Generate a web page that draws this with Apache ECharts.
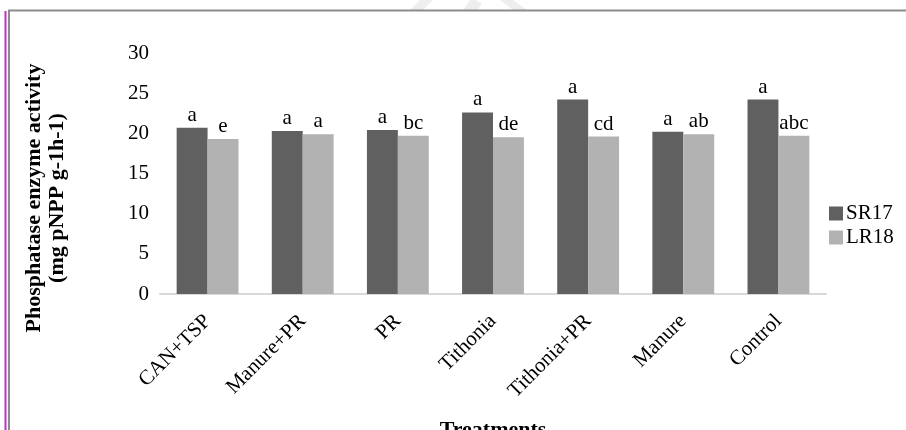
<!DOCTYPE html>
<html>
<head>
<meta charset="utf-8">
<script src="https://cdn.jsdelivr.net/npm/echarts@6/dist/echarts.min.js"></script>
<style>
html,body{margin:0;padding:0;background:#fff;}
#chart{width:906px;height:430px;}
</style>
</head>
<body>
<div id="chart"></div>
<script>
var categories = ['CAN+TSP', 'Manure+PR', 'PR', 'Tithonia', 'Tithonia+PR', 'Manure', 'Control'];
var sr17 = [20.7, 20.3, 20.4, 22.6, 24.2, 20.2, 24.2];
var lr18 = [19.3, 19.9, 19.7, 19.5, 19.6, 19.9, 19.7];
var sr17Letters = ['a', 'a', 'a', 'a', 'a', 'a', 'a'];
var lr18Letters = ['e', 'a', 'bc', 'de', 'cd', 'ab', 'abc'];
var yTicks = [0, 5, 10, 15, 20, 25, 30];

var serif = '"Liberation Serif", "DejaVu Serif", serif';
var chart = echarts.init(document.getElementById('chart'), null, {renderer: 'canvas'});

function labelFn(letters) {
  return function (p) { return letters[p.dataIndex]; };
}

chart.setOption({
  animation: false,
  backgroundColor: '#ffffff',
  grid: {left: 160, right: 80, top: 53, bottom: 136, containLabel: false, outerBoundsMode: 'none'},
  legend: {
    orient: 'vertical',
    left: 824,
    top: 198,
    itemWidth: 14,
    itemHeight: 14,
    itemGap: 3,
    icon: 'rect',
    textStyle: {fontFamily: serif, fontSize: 21, color: '#000', padding: [0, 0, 0, -2]},
    data: ['SR17', 'LR18']
  },
  xAxis: {
    type: 'category',
    data: categories,
    name: 'Treatments',
    nameLocation: 'middle',
    nameGap: 125,
    nameTextStyle: {fontFamily: serif, fontSize: 22, fontWeight: 'bold', color: '#000'},
    axisLine: {show: true, lineStyle: {color: '#d9d9d9', width: 2}},
    axisTick: {show: false},
    axisLabel: {rotate: 45, fontFamily: serif, fontSize: 21, color: '#000', margin: 24, interval: 0}
  },
  yAxis: {
    type: 'value',
    min: yTicks[0],
    max: yTicks[yTicks.length - 1],
    interval: 5,
    axisLine: {show: false},
    axisTick: {show: false},
    splitLine: {show: false},
    axisLabel: {fontFamily: serif, fontSize: 21, color: '#000', margin: 11}
  },
  series: [
    {
      name: 'SR17', type: 'bar', data: sr17, barGap: '0%', barCategoryGap: '35%',
      itemStyle: {color: '#606060'},
      label: {show: true, position: 'top', distance: 2, formatter: labelFn(sr17Letters), fontFamily: serif, fontSize: 21, color: '#000'}
    },
    {
      name: 'LR18', type: 'bar', data: lr18, barGap: '0%', barCategoryGap: '35%',
      itemStyle: {color: '#b2b2b2'},
      label: {show: true, position: 'top', distance: 2, formatter: labelFn(lr18Letters), fontFamily: serif, fontSize: 21, color: '#000'}
    }
  ],
  graphic: [
    {type: 'polygon', shape: {points: [[410, 10], [423, 10], [433, 0], [420, 0]]}, style: {fill: '#eeeeee'}, z: 1},
    {type: 'polygon', shape: {points: [[463, 10], [477, 10], [482, 4], [476, 0], [470, 0]]}, style: {fill: '#eeeeee'}, z: 1},
    {type: 'polygon', shape: {points: [[500, 0], [513, 0], [527, 10], [513, 10]]}, style: {fill: '#eeeeee'}, z: 1},
    {type: 'line', shape: {x1: 5.5, y1: 11, x2: 5.5, y2: 430}, style: {stroke: '#c030c8', lineWidth: 2}, z: 10},
    {type: 'line', shape: {x1: 9, y1: 10, x2: 9, y2: 430}, style: {stroke: '#8c8c8c', lineWidth: 2}, z: 10},
    {type: 'line', shape: {x1: 8, y1: 10.5, x2: 906, y2: 10.5}, style: {stroke: '#8c8c8c', lineWidth: 2}, z: 10},
    {
      type: 'text', x: 46, y: 198, rotation: Math.PI / 2, z: 10,
      style: {
        text: 'Phosphatase enzyme activity\n(mg pNPP g-1h-1)',
        fontFamily: serif, fontSize: 22, fontWeight: 'bold', fill: '#000',
        align: 'center', verticalAlign: 'middle', lineHeight: 23
      }
    }
  ]
});
</script>
</body>
</html>
